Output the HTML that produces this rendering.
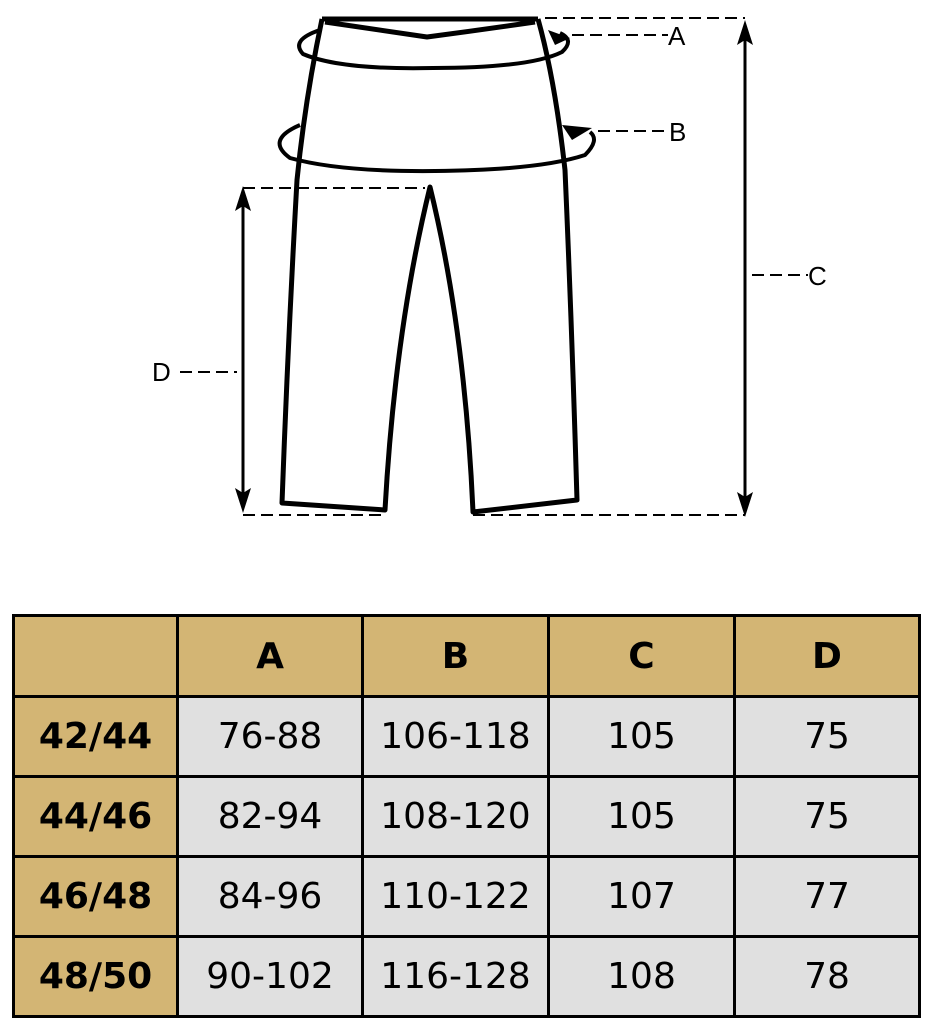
<!DOCTYPE html>
<html><head><style>
body{margin:0;width:931px;height:1024px;background:#fff;overflow:hidden;position:relative;font-family:"Liberation Sans",sans-serif}
.c{position:absolute;box-sizing:border-box;border:3px solid #000;display:flex;align-items:center;justify-content:center;font-family:"DejaVu Sans","Liberation Sans",sans-serif;font-size:36px;background:#e0e0e0;color:#000}
.h{background:#d3b574;font-weight:bold}
svg text{font-family:"Liberation Sans",sans-serif;font-size:26px}
</style></head><body>
<svg width="931" height="600" style="position:absolute;left:0;top:0" xmlns="http://www.w3.org/2000/svg">
<g fill="none" stroke="#000" stroke-width="5" stroke-linejoin="round">
<path d="M322,19 L538,19"/>
<path d="M325,22 Q380,30 427,37 Q480,30 535,22"/>
<path d="M322,19 Q305,100 297,180 Q288,340 282,503 L385,510 Q395,330 430,187 Q465,330 473,512 L577,500 Q572,330 565,170 Q555,80 538,19"/>
<path d="M320,30 Q290,40 303,54 Q340,70 433,68 Q530,68 562,52 Q575,40 560,33" stroke-width="4"/>
<path d="M300,125 Q265,140 290,158 Q340,172 435,171 Q540,170 585,155 Q600,140 590,132" stroke-width="4"/>
</g>
<path d="M548,30 L570,38 L555,45z" fill="#000"/>
<path d="M562,125 L592,128 L572,140z" fill="#000"/>
<g stroke="#000" stroke-width="2" stroke-dasharray="12,6" fill="none">
<path d="M545,18H745"/>
<path d="M572,35H668"/>
<path d="M598,131H665"/>
<path d="M752,275H808"/>
<path d="M243,188H425"/>
<path d="M243,515H385"/>
<path d="M473,515H745"/>
<path d="M180,372H237"/>
</g>
<g stroke="#000" stroke-width="3">
<line x1="745" y1="30" x2="745" y2="505"/>
<line x1="243" y1="198" x2="243" y2="505"/>
</g>
<g fill="#000">
<path d="M745,20 L737,45 L745,40 L753,45z"/>
<path d="M745,517 L737,492 L745,497 L753,492z"/>
<path d="M243,186 L235,211 L243,206 L251,211z"/>
<path d="M243,513 L235,488 L243,493 L251,488z"/>
</g>
<g fill="#000">
<text x="668" y="45">A</text>
<text x="669" y="141">B</text>
<text x="808" y="285">C</text>
<text x="152" y="381">D</text>
</g>
</svg>
<div class="c h" style="left:12px;top:614px;width:167px;height:84px"></div>
<div class="c h" style="left:176px;top:614px;width:188px;height:84px">A</div>
<div class="c h" style="left:361px;top:614px;width:189px;height:84px">B</div>
<div class="c h" style="left:547px;top:614px;width:189px;height:84px">C</div>
<div class="c h" style="left:733px;top:614px;width:188px;height:84px">D</div>

<div class="c h" style="left:12px;top:695px;width:167px;height:83px">42/44</div>
<div class="c" style="left:176px;top:695px;width:188px;height:83px">76-88</div>
<div class="c" style="left:361px;top:695px;width:189px;height:83px">106-118</div>
<div class="c" style="left:547px;top:695px;width:189px;height:83px">105</div>
<div class="c" style="left:733px;top:695px;width:188px;height:83px">75</div>

<div class="c h" style="left:12px;top:775px;width:167px;height:83px">44/46</div>
<div class="c" style="left:176px;top:775px;width:188px;height:83px">82-94</div>
<div class="c" style="left:361px;top:775px;width:189px;height:83px">108-120</div>
<div class="c" style="left:547px;top:775px;width:189px;height:83px">105</div>
<div class="c" style="left:733px;top:775px;width:188px;height:83px">75</div>

<div class="c h" style="left:12px;top:855px;width:167px;height:83px">46/48</div>
<div class="c" style="left:176px;top:855px;width:188px;height:83px">84-96</div>
<div class="c" style="left:361px;top:855px;width:189px;height:83px">110-122</div>
<div class="c" style="left:547px;top:855px;width:189px;height:83px">107</div>
<div class="c" style="left:733px;top:855px;width:188px;height:83px">77</div>

<div class="c h" style="left:12px;top:935px;width:167px;height:83px">48/50</div>
<div class="c" style="left:176px;top:935px;width:188px;height:83px">90-102</div>
<div class="c" style="left:361px;top:935px;width:189px;height:83px">116-128</div>
<div class="c" style="left:547px;top:935px;width:189px;height:83px">108</div>
<div class="c" style="left:733px;top:935px;width:188px;height:83px">78</div>
</body></html>
